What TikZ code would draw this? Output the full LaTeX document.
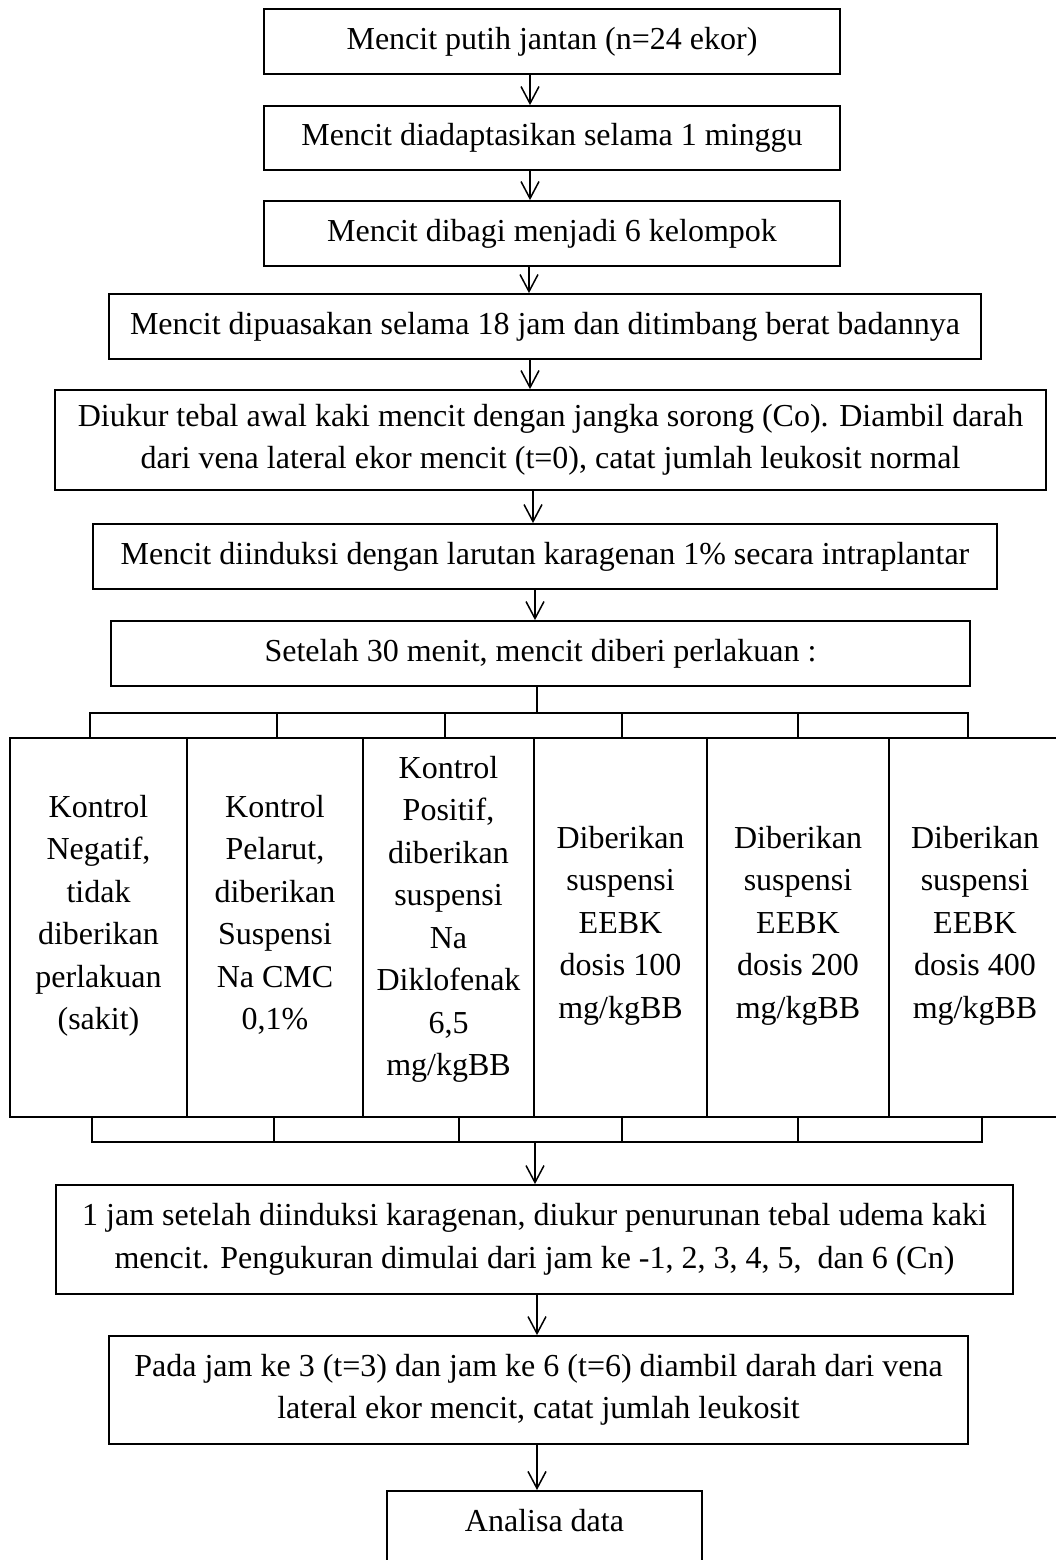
\documentclass[tikz,border=0pt]{standalone}
\usepackage{fontspec}
\setmainfont{Liberation Serif}
\usetikzlibrary{arrows.meta}
\begin{document}
\begin{tikzpicture}[x=1pt,y=-1pt,
  box/.style={draw, line width=1.8pt, rectangle, inner sep=0pt, align=center, font=\fontsize{32}{42.5}\selectfont},
  col/.style={draw, line width=1.8pt, rectangle, inner sep=0pt, minimum height=379pt},
  coltext/.style={inner sep=0pt, anchor=north, align=center, font=\fontsize{32}{42.5}\selectfont},
  ln/.style={line width=1.5pt},
  arr/.style={line width=1.5pt, -{Straight Barb[length=17pt,width=18pt]}}]
\useasboundingbox (0,0) rectangle (1056,1560);
\clip (0,0) rectangle (1056,1560);
% main boxes
\node[box, minimum width=576pt, minimum height=65pt] (b1) at (552,41.5) {Mencit putih jantan (n=24 ekor)};
\node[box, minimum width=576pt, minimum height=64pt] (b2) at (552,138) {Mencit diadaptasikan selama 1 minggu};
\node[box, minimum width=576pt, minimum height=65pt] (b3) at (552,233.5) {Mencit dibagi menjadi 6 kelompok};
\node[box, minimum width=872pt, minimum height=65pt] (b4) at (545,326.5) {Mencit dipuasakan selama 18 jam dan ditimbang berat badannya};
\node[box, minimum width=991pt, minimum height=100pt] (b5) at (550.5,440) {Diukur tebal awal kaki mencit dengan jangka sorong (Co). Diambil darah\\dari vena lateral ekor mencit (t=0), catat jumlah leukosit normal};
\node[box, minimum width=904pt, minimum height=65pt] (b6) at (545,556.5) {Mencit diinduksi dengan larutan karagenan 1\% secara intraplantar};
\node[box, minimum width=859pt, minimum height=65pt] (b7) at (540.5,653.5) {Setelah 30 menit, mencit diberi perlakuan :};
% group columns
\node[col, minimum width=177pt] (c1) at (98.5,927.5) {};
\node[col, minimum width=176pt] (c2) at (275,927.5) {};
\node[col, minimum width=171pt] (c3) at (448.5,927.5) {};
\node[col, minimum width=173pt] (c4) at (620.5,927.5) {};
\node[col, minimum width=182pt] (c5) at (798,927.5) {};
\node[col, minimum width=172pt] (c6) at (975,927.5) {};
\node[coltext] (t1) at (98.5,793) {\rule{0pt}{24pt}Kontrol\\Negatif,\\tidak\\diberikan\\perlakuan\\(sakit)};
\node[coltext] (t2) at (275,793) {\rule{0pt}{24pt}Kontrol\\Pelarut,\\diberikan\\Suspensi\\Na CMC\\0,1\%};
\node[coltext] (t3) at (448.5,754) {\rule{0pt}{24pt}Kontrol\\Positif,\\diberikan\\suspensi\\Na\\Diklofenak\\6,5\\mg/kgBB};
\node[coltext] (t4) at (620.5,824) {\rule{0pt}{24pt}Diberikan\\suspensi\\EEBK\\dosis 100\\mg/kgBB};
\node[coltext] (t5) at (798,824) {\rule{0pt}{24pt}Diberikan\\suspensi\\EEBK\\dosis 200\\mg/kgBB};
\node[coltext] (t6) at (975,824) {\rule{0pt}{24pt}Diberikan\\suspensi\\EEBK\\dosis 400\\mg/kgBB};
% lower boxes
\node[box, minimum width=957pt, minimum height=109pt] (b8) at (534.5,1239.5) {1 jam setelah diinduksi karagenan, diukur penurunan tebal udema kaki\\mencit. Pengukuran dimulai dari jam ke -1, 2, 3, 4, 5, \ dan 6 (Cn)};
\node[box, minimum width=859pt, minimum height=108pt] (b9) at (538.5,1390) {Pada jam ke 3 (t=3) dan jam ke 6 (t=6) diambil darah dari vena\\lateral ekor mencit, catat jumlah leukosit};
\node[box, anchor=north, minimum width=315pt, text height=22pt, text depth=70pt, inner ysep=19pt] (b10) at (544.5,1490) {Analisa data};
% axis coordinates
\coordinate (a1) at (530,0);
\coordinate (a3) at (529,0);
\coordinate (a5) at (533,0);
\coordinate (a6) at (535,0);
\coordinate (a9) at (537,0);
\coordinate (hb) at (537,713);
\coordinate (lb) at (535,1142);
% arrows
\draw[arr] (b1.south -| a1) -- (b2.north -| a1);
\draw[arr] (b2.south -| a1) -- (b3.north -| a1);
\draw[arr] (b3.south -| a3) -- (b4.north -| a3);
\draw[arr] (b4.south -| a1) -- (b5.north -| a1);
\draw[arr] (b5.south -| a5) -- (b6.north -| a5);
\draw[arr] (b6.south -| a6) -- (b7.north -| a6);
% upper bracket
\draw[ln] (b7.south -| hb) -- (hb);
\draw[ln] ([xshift=-8.5pt]c1.north) |- (hb);
\draw[ln] ([xshift=2pt]c2.north) |- (hb);
\draw[ln] ([xshift=-3.5pt]c3.north) |- (hb);
\draw[ln] ([xshift=1.5pt]c4.north) |- (hb);
\draw[ln] (c5.north) |- (hb);
\draw[ln] ([xshift=-7pt]c6.north) |- (hb);
% lower bracket
\draw[ln] ([xshift=-6.5pt]c1.south) |- (lb);
\draw[ln] ([xshift=-1pt]c2.south) |- (lb);
\draw[ln] ([xshift=10.5pt]c3.south) |- (lb);
\draw[ln] ([xshift=1.5pt]c4.south) |- (lb);
\draw[ln] (c5.south) |- (lb);
\draw[ln] ([xshift=7pt]c6.south) |- (lb);
\draw[arr] (lb) -- (b8.north -| lb);
\draw[arr] (b8.south -| a9) -- (b9.north -| a9);
\draw[arr] (b9.south -| a9) -- (b10.north -| a9);
\end{tikzpicture}
\end{document}
